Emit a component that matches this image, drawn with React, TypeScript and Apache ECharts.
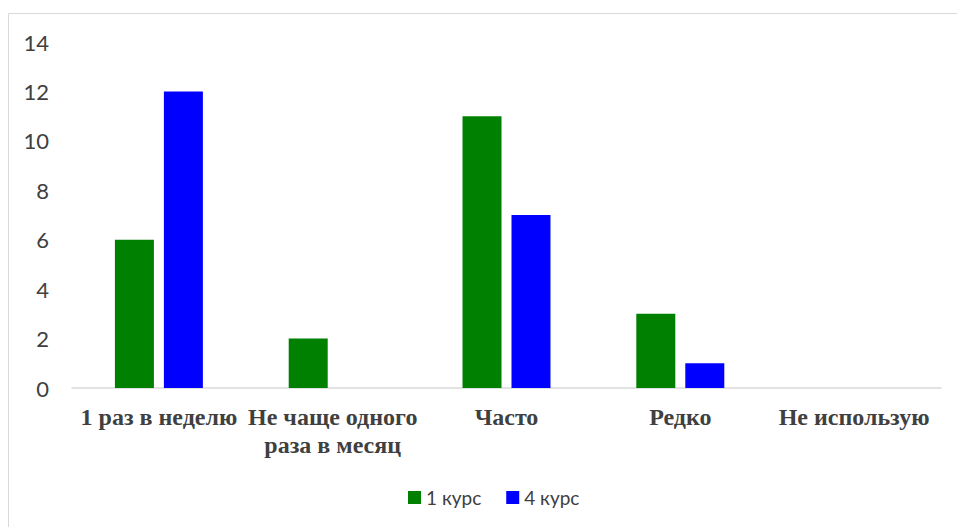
import React, { useEffect, useRef } from "react";
import * as echarts from "echarts";

const categories = [
  "1 раз в неделю",
  "Не чаще одного раза в месяц",
  "Часто",
  "Редко",
  "Не использую",
];
const seriesNames = ["1 курс", "4 курс"];
const course1 = [6, 2, 11, 3, 0];
const course4 = [12, 0, 7, 1, 0];
const yTicks = { min: 0, max: 14, interval: 2 };

export default function App() {
  const ref = useRef<HTMLDivElement>(null);
  useEffect(() => {
    if (!ref.current) return;
    const chart = echarts.init(ref.current, undefined, { renderer: "svg" });
    chart.setOption({
      animation: false,
      backgroundColor: "#ffffff",
      graphic: [
        {
          type: "rect",
          shape: { x: 8.5, y: 13.5, width: 980, height: 560 },
          style: { fill: "none", stroke: "#d9d9d9", lineWidth: 1 },
          silent: true,
        },
      ],
      grid: { left: 72, right: 16, top: 42, bottom: 139, containLabel: false },
      legend: {
        data: seriesNames,
        left: 403,
        top: 483,
        icon: "rect",
        itemWidth: 13,
        itemHeight: 13,
        itemGap: 25,
        textStyle: { fontFamily: "Lato", fontSize: 19, color: "#404040" },
      },
      xAxis: {
        type: "category",
        data: categories,
        axisLine: { lineStyle: { color: "#d9d9d9", width: 1.5 } },
        axisTick: { show: false },
        axisLabel: {
          interval: 0,
          margin: 15,
          fontFamily: "Liberation Serif",
          fontWeight: "bold",
          fontSize: 24,
          lineHeight: 28,
          color: "#404040",
          formatter: (v: string) =>
            v === "Не чаще одного раза в месяц" ? "Не чаще одного\nраза в месяц" : v,
        },
      },
      yAxis: {
        type: "value",
        min: yTicks.min,
        max: yTicks.max,
        interval: yTicks.interval,
        splitLine: { show: false },
        axisLine: { show: false },
        axisTick: { show: false },
        axisLabel: {
          margin: 23,
          fontFamily: "Lato",
          fontSize: 22,
          color: "#404040",
        },
      },
      series: [
        {
          name: seriesNames[0],
          type: "bar",
          data: course1,
          itemStyle: { color: "#008000" },
          barWidth: 39,
          barGap: "25.6%",
        },
        {
          name: seriesNames[1],
          type: "bar",
          data: course4,
          itemStyle: { color: "#0000ff" },
          barWidth: 39,
          barGap: "25.6%",
        },
      ],
    });
    return () => chart.dispose();
  }, []);
  return (
    <div
      ref={ref}
      style={{ position: "absolute", left: 0, top: 0, width: 957, height: 527 }}
    />
  );
}
